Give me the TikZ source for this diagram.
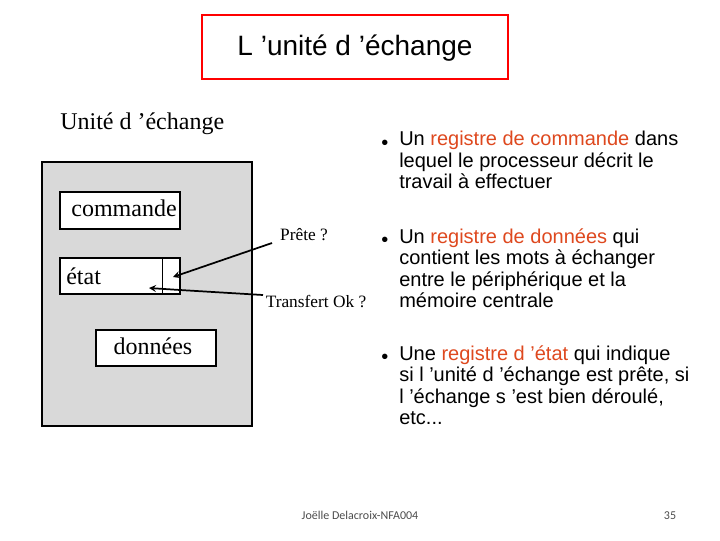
\documentclass[tikz,border=0pt]{standalone}
\usepackage{fontspec}
\setmainfont{Liberation Serif}
\newfontfamily\arial{Liberation Sans}
\newfontfamily\carl{Carlito}
\definecolor{hl}{RGB}{222,72,30}
\definecolor{gbox}{RGB}{217,217,217}
\begin{document}
\begin{tikzpicture}[x=0.75pt,y=-0.75pt,
  box/.style={draw,line width=0.9pt,fill=white,inner sep=0pt},
  bul/.style={anchor=north west,font=\arial\fontsize{15}{16.2}\selectfont,align=left,inner sep=0pt},
  dot/.style={anchor=base west,font=\arial\fontsize{15}{16}\selectfont,inner sep=0pt},
  lbl/.style={font=\fontsize{13}{15}\selectfont,inner sep=0pt},
  foot/.style={anchor=base,font=\carl\fontsize{9}{11}\selectfont,text=black!70}]
\useasboundingbox (0,0) rectangle (720,540);
\node[draw=red,line width=1.5pt,minimum width=230pt,minimum height=48pt,inner sep=0pt] (title) at (355,47) {};
\node[font=\arial\fontsize{21}{24}\selectfont] (tt) at (355,48) {L ’unité d ’échange};
\node[anchor=west,font=\fontsize{18}{21}\selectfont,inner sep=0pt] (ude) at (60,124) {Unité d ’échange};
\draw[fill=gbox,line width=1pt] (42,162) rectangle (252,426);
\node[box,minimum width=90pt,minimum height=27.75pt] (cmd) at (120,210.5) {};
\node[font=\fontsize{18}{21}\selectfont,inner sep=0pt] (cmdt) at (124,208) {commande};
\node[box,minimum width=90pt,minimum height=27pt] (etat) at (120,276) {};
\draw[line width=0.7pt] (162,258) -- (162,294);
\node[anchor=west,font=\fontsize{18}{21}\selectfont,inner sep=0pt] (etatt) at (66,276) {état};
\node[box,minimum width=90pt,minimum height=27pt] (don) at (156,348) {};
\node[font=\fontsize{18}{21}\selectfont,inner sep=0pt] (dont) at (153,346) {données};
\node[lbl] (pr) at (304,235) {Prête ?};
\node[lbl] (tr) at (316,302) {Transfert Ok ?};
\coordinate (a1) at (272,243);
\coordinate (a2) at (173,277);
\coordinate (b1) at (263,295);
\coordinate (b2) at (180,290);
\coordinate (b3) at (149,288);
\draw[line width=1.3pt,-stealth] (a1) -- (a2);
\draw[line width=1.3pt,-stealth] (b1) -- (b2) -- (b3);
\node[dot] (l1) at (381,149) {•};
\node[bul] (t1) at (399,131) {Un \textcolor{hl}{registre de commande} dans\\lequel le processeur décrit le\\travail à effectuer};
\node[dot] (l2) at (381,246) {•};
\node[bul] (t2) at (399,228) {Un \textcolor{hl}{registre de données} qui\\contient les mots à échanger\\entre le périphérique et la\\mémoire centrale};
\node[dot] (l3) at (381,363) {•};
\node[bul] (t3) at (399,345) {Une \textcolor{hl}{registre d ’état} qui indique\\si l ’unité d ’échange est prête, si\\l ’échange s ’est bien déroulé,\\etc...};
\node[foot] (ft) at (360,519) {Joëlle Delacroix-NFA004};
\node[foot] (pg) at (670,519) {35};
\end{tikzpicture}
\end{document}
